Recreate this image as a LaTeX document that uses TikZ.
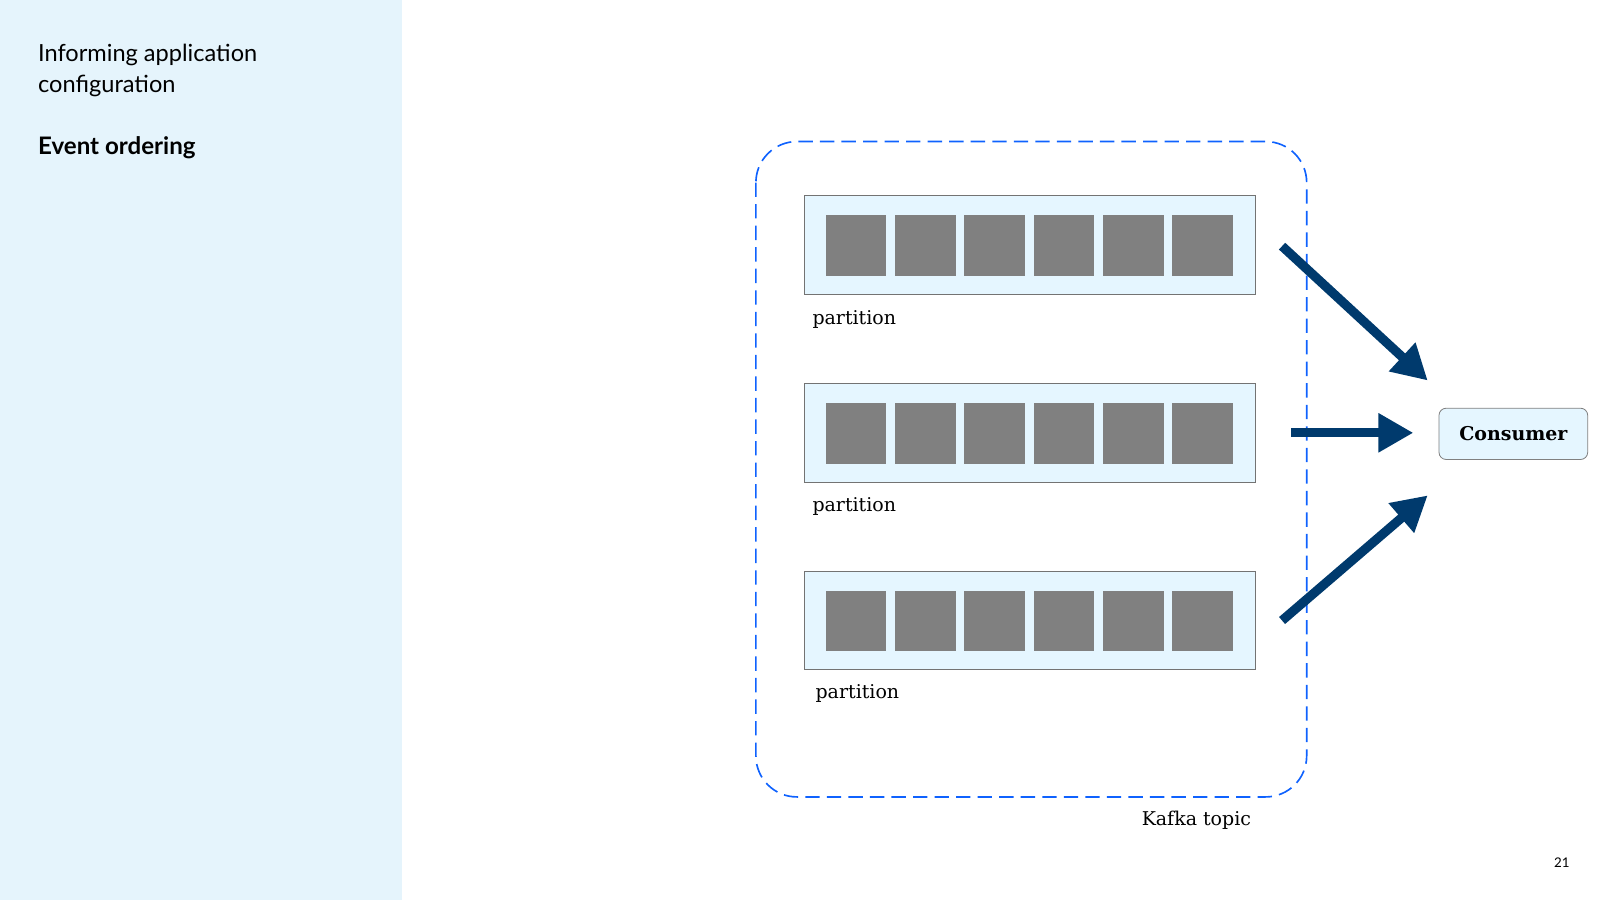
\documentclass[tikz,border=0pt]{standalone}
\usepackage{fontspec}
\setmainfont{DejaVu Serif}
\newfontfamily\plex{Lato}
\usetikzlibrary{arrows.meta}
\definecolor{panel}{HTML}{E5F4FC}
\definecolor{partfill}{HTML}{E5F6FF}
\definecolor{dashc}{HTML}{0F62FE}
\definecolor{arrowc}{HTML}{003A6D}
\tikzset{
  part/.style={draw=black!55, fill=partfill, line width=0.8pt},
  sq/.style={fill=black!50, draw=none},
  plabel/.style={anchor=base west, font=\fontsize{18.5}{22}\selectfont, inner sep=0pt},
  big/.style={draw=arrowc, line width=9pt, -{Triangle[length=34pt,width=36pt]}},
}
\begin{document}
\begin{tikzpicture}[x=1pt,y=-1pt]
\useasboundingbox (0,0) rectangle (1560,877.5);
\fill[panel] (0,0) rectangle (392,877.5);
\node[anchor=base west,inner sep=0pt,font=\plex\fontsize{23}{26}\selectfont] (t1) at (37,60) {Informing application};
\node[anchor=base west,inner sep=0pt,font=\plex\fontsize{23}{26}\selectfont] (t2) at (37,90) {configuration};
\node[anchor=base west,inner sep=0pt,font=\plex\bfseries\fontsize{23.5}{26}\selectfont] (t3) at (37,151) {Event ordering};
\draw[dashc, line width=1.6pt, dash pattern=on 14pt off 7pt, rounded corners=40pt] (737,138) rectangle (1274,777);
\foreach \i/\y in {1/191,2/374,3/557}{
  \draw[part] (784,\y) rectangle (1224,\y+96);
  \foreach \k in {0,...,5}{
    \fill[sq] (805+\k*67.6,\y+19) rectangle (864+\k*67.6,\y+78);
  }
}
\node[plabel] (p1) at (792,316) {partition};
\node[plabel] (p2) at (792,499) {partition};
\node[plabel] (p3) at (795,681) {partition};
\node[anchor=base west,inner sep=0pt,font=\fontsize{18.5}{22}\selectfont] (kt) at (1113,805) {Kafka topic};
\node[draw=black!50, fill=partfill, rounded corners=7pt, line width=0.8pt, minimum width=145pt, minimum height=50pt, font=\bfseries\fontsize{18.5}{22}\selectfont] (cons) at (1475.5,423) {Consumer};
\coordinate (a1) at (1250,240); \coordinate (b1) at (1392,371);
\coordinate (a2) at (1259,422); \coordinate (b2) at (1378,422);
\coordinate (a3) at (1250,605); \coordinate (b3) at (1392,483);
\draw[big] (a1) -- (b1);
\draw[big] (a2) -- (b2);
\draw[big] (a3) -- (b3);
\node[anchor=base west,inner sep=0pt,font=\plex\fontsize{13}{15}\selectfont] (pg) at (1515,846) {21};
\end{tikzpicture}
\end{document}
